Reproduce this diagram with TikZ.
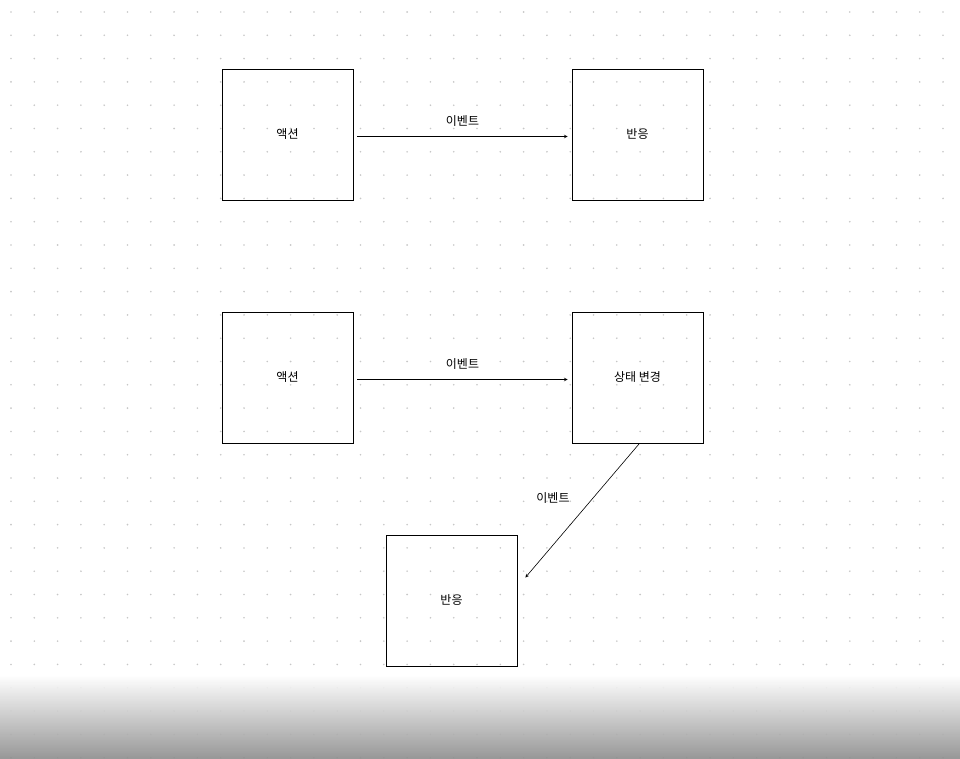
\documentclass[tikz,border=0pt]{standalone}
\usepackage{fontspec}
\setmainfont{Noto Sans CJK KR}
\usetikzlibrary{calc}
\begin{document}
\begin{tikzpicture}[x=1pt,y=-1pt,
  box/.style={draw,thick,minimum width=131pt,minimum height=131pt,inner sep=0pt,font=\fontsize{12}{14}\selectfont},
  lbl/.style={font=\fontsize{12}{14}\selectfont},
  conn/.style={-stealth,semithick}]
\useasboundingbox (0,0) rectangle (960,759);
\clip (0,0) rectangle (960,759);
\fill[white] (0,0) rectangle (960,759);
\foreach \i in {0,...,40}{\foreach \j in {0,...,32}{
  \fill[black!22] ({11+\i*23.3},{12+\j*23.3}) circle (0.9);}}
\shade[top color=white,bottom color=black!45,opacity=0.9] (0,675) rectangle (960,759);
\node[box] (a1) at (287.5,134.5) {액션};
\node[box] (r1) at (637.5,134.5) {반응};
\node[box] (a2) at (287.5,377.5) {액션};
\node[box] (s2) at (637.5,377.5) {상태 변경};
\node[box] (r2) at (451.5,600.5) {반응};
\coordinate (p1) at ($(a1.east)+(4,2)$);
\coordinate (q1) at ($(r1.west)+(-4,2)$);
\draw[conn] (p1) -- node[lbl,above=6pt]{이벤트} (q1);
\coordinate (p2) at ($(a2.east)+(4,2)$);
\coordinate (q2) at ($(s2.west)+(-4,2)$);
\draw[conn] (p2) -- node[lbl,above=6pt]{이벤트} (q2);
\coordinate (p3) at ($(s2.south)+(2,0)$);
\coordinate (q3) at ($(r2.east)+(8,-23)$);
\draw[conn] (p3) -- (q3);
\node[lbl] (l3) at (553,498) {이벤트};
\end{tikzpicture}
\end{document}
